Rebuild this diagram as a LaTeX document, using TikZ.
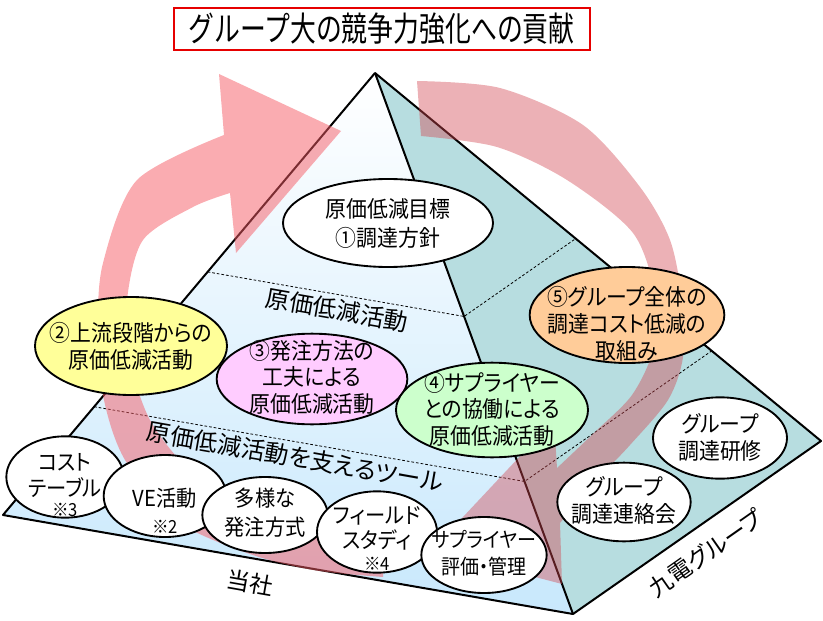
\documentclass[tikz,border=0pt]{standalone}
\usepackage{fontspec}
\setmainfont{Noto Sans CJK JP}[RawFeature=+palt]
\newfontfamily\titlefont{Noto Sans CJK JP}[FakeStretch=0.76]
\newfontfamily\bubblefont{Noto Sans CJK JP}[RawFeature=+palt, FakeStretch=0.92]
\usetikzlibrary{positioning}
\usetikzlibrary{shapes,calc}
\definecolor{faceblue}{RGB}{200,232,252}
\definecolor{faceteal}{RGB}{183,221,224}
\definecolor{ylw}{RGB}{255,255,153}
\definecolor{pnk}{RGB}{255,204,255}
\definecolor{grn}{RGB}{204,255,204}
\definecolor{orng}{RGB}{255,204,153}
\definecolor{arrowa}{RGB}{245,90,100}
\definecolor{arrowb}{RGB}{210,70,80}
\definecolor{titlered}{RGB}{230,0,0}
\newcommand\tinynote{\fontsize{13.5}{14}\selectfont}
\newcommand\lowtext[2]{\makebox[0pt]{\raisebox{-#1}[0pt][0pt]{\begin{tabular}{@{}c@{}}#2\end{tabular}}}}

\begin{document}
\begin{tikzpicture}[x=0.75pt,y=-0.75pt,
  bubble/.style={ellipse, draw, line width=1.4pt, fill=white, inner sep=0pt, font=\bubblefont\fontsize{17}{19.5}\selectfont},
  smallbubble/.style={bubble, font=\bubblefont\fontsize{16.5}{18}\selectfont},
  facetext/.style={rotate=-10, font=\fontsize{18}{20}\selectfont},
  guide/.style={dash pattern=on 2pt off 1.5pt, line width=0.6pt}]
     \useasboundingbox (0,0) rectangle (823,620);

     \coordinate (apex) at (375,73);
     \coordinate (lft) at (3,515);
     \coordinate (frnt) at (573,614);
     \coordinate (rgt) at (821,441);

     \shade [top color=white, bottom color=faceblue] (apex) -- (lft) -- (frnt) -- cycle;
     \fill [faceteal] (apex) -- (frnt) -- (rgt) -- cycle;
     \draw [guide] ($(apex)!0.45!(lft)$) -- ($(apex)!0.45!(frnt)$) -- ($(apex)!0.45!(rgt)$);
     \draw [guide] ($(apex)!0.755!(lft)$) -- ($(apex)!0.755!(frnt)$) -- ($(apex)!0.755!(rgt)$);
     \draw [line width=1.5pt, line join=round] (apex) -- (lft) -- (frnt) -- (rgt) -- cycle;
     \draw [line width=1.5pt] (apex) -- (frnt);

     \fill [arrowa, opacity=0.5] plot[smooth] coordinates {(383,577) (313,570) (247,553) (175,520) (125,460) (104,400) (98,330) (103,263) (137,180) (224,135)}
        -- (219,74) -- (341,131) -- (236,253) -- (230,193)
        -- plot[smooth] coordinates {(230,193) (193,207) (143,240) (127,300) (130,360) (150,420) (190,470) (250,505) (320,525) (383,532)} -- cycle;
     \fill [arrowb, opacity=0.42] (421,136) -- (417,81)
        -- plot[smooth] coordinates {(417,81) (500,88) (583,125) (640,187) (670,240) (682,300) (683,357) (668,400) (630,445) (595,482) (560,523)}
        -- (562,584) -- (432,550) -- (554,420) -- (557,468)
        -- plot[smooth] coordinates {(557,468) (595,432) (632,395) (653,350) (655,295) (633,233) (567,180) (497,147) (421,136)} -- cycle;

     \node [facetext] (midband) at (337,310) {原価低減活動};
     \node [facetext] (lowband) at (295,457) {原価低減活動を支えるツール};
     \node [rotate=-10, font=\fontsize{17.5}{20}\selectfont] (ours) at (250,583) {当社};
     \node [rotate=35, font=\fontsize{17.5}{20}\selectfont] (kyuden) at (706,553) {九電グループ};

     \node [bubble, minimum width=157.5pt, minimum height=66pt] (goal) at (388,223) {\lowtext{7pt}{原価低減目標\\[1.5pt]①調達方針}};
     \node [bubble, fill=ylw, minimum width=144pt, minimum height=73.5pt] (upstream) at (131,346) {\lowtext{6.75pt}{②上流段階からの\\原価低減活動}};
     \node [bubble, fill=pnk, minimum width=143pt, minimum height=68pt] (method) at (312,379) {\lowtext{5.25pt}{③発注方法の\\工夫による\\原価低減活動}};
     \node [bubble, fill=grn, minimum width=144pt, minimum height=71pt] (partner) at (492,410) {\lowtext{6pt}{④サプライヤー\\との協働による\\原価低減活動}};
     \node [bubble, fill=orng, minimum width=146pt, minimum height=72pt] (group) at (627,315) {\lowtext{13pt}{⑤グループ全体の\\調達コスト低減の\\取組み}};
     \node [bubble, minimum width=100.5pt, minimum height=61pt] (training) at (720,438) {\lowtext{6pt}{グループ\\調達研修}};
     \node [bubble, minimum width=100pt, minimum height=59pt] (liaison) at (624,502) {\lowtext{5.25pt}{グループ\\調達連絡会}};

     \node [smallbubble, minimum width=88pt, minimum height=61pt] (costtable) at (65,477) {\lowtext{12.7pt}{コスト\\テーブル\\[-3pt]{\tinynote ※3}}};
     \node [smallbubble, minimum width=92pt, minimum height=61.5pt] (ve) at (165,496) {\lowtext{18pt}{VE活動\\[2pt]{\tinynote ※2}}};
     \node [smallbubble, minimum width=94pt, minimum height=57pt] (ordering) at (265,515) {\lowtext{4.5pt}{多様な\\[2pt]発注方式}};
     \node [smallbubble, minimum width=90pt, minimum height=61pt] (field) at (377,532) {\lowtext{12pt}{フィールド\\[-0.75pt]スタディ\\[-2pt]{\tinynote ※4}}};
     \node [smallbubble, font=\bubblefont\fontsize{15.5}{18}\selectfont, minimum width=94pt, minimum height=57pt] (rating) at (484,555) {\lowtext{4.5pt}{サプライヤー\\[2pt]評価・管理}};

     \node [draw=titlered, line width=1.5pt, fill=white, minimum width=312pt, minimum height=31.5pt, inner sep=0pt, font=\titlefont\fontsize{25.5}{27}\selectfont] (title) at (381.5,29) {グループ大の競争力強化への貢献};
\end{tikzpicture}
\end{document}
